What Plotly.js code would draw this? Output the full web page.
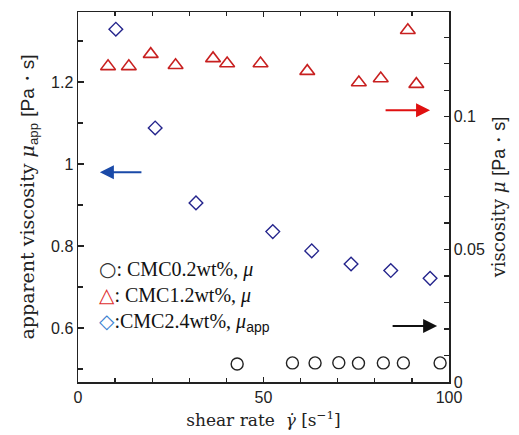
<!DOCTYPE html>
<html>
<head>
<meta charset="utf-8">
<script src="https://cdn.plot.ly/plotly-3.0.1.min.js"></script>
<style>html,body{margin:0;padding:0;background:#fff;}#chart{width:519px;height:435px;}</style>
</head>
<body>
<div id="chart"></div>
<script>
// CMC0.2wt% (viscosity mu, right axis)
var cmc02Shear = [42.9, 57.8, 63.9, 70.3, 75.6, 82.3, 87.7, 97.6];
var cmc02Mu    = [0.0068, 0.0072, 0.0072, 0.0073, 0.0071, 0.0072, 0.0072, 0.0072];
// CMC1.2wt% (viscosity mu, right axis)
var cmc12Shear = [8.1, 13.7, 19.6, 26.3, 36.4, 40.2, 49.2, 61.8, 75.7, 81.6, 88.9, 91.2];
var cmc12Mu    = [0.1190, 0.1190, 0.1236, 0.1194, 0.1220, 0.1201, 0.1201, 0.1172, 0.1129, 0.1144, 0.1326, 0.1123];
// CMC2.4wt% (apparent viscosity mu_app, left axis)
var cmc24Shear = [10.2, 20.8, 31.8, 52.5, 63.0, 73.6, 84.3, 94.9];
var cmc24MuApp = [1.329, 1.088, 0.905, 0.835, 0.788, 0.756, 0.740, 0.721];

var serif = 'DejaVu Serif';
var sans = 'Liberation Sans';

var traces = [
  {x: cmc02Shear, y: cmc02Mu, yaxis: 'y2', mode: 'markers', type: 'scatter', name: 'CMC0.2wt%',
   marker: {symbol: 'circle-open', size: 12, color: '#222', line: {width: 1.4, color: '#222'}}},
  {x: cmc12Shear, y: cmc12Mu, yaxis: 'y2', mode: 'markers', type: 'scatter', name: 'CMC1.2wt%',
   marker: {symbol: 'triangle-up-open', size: 13, color: '#c82020', line: {width: 1.6, color: '#c82020'}}},
  {x: cmc24Shear, y: cmc24MuApp, yaxis: 'y', mode: 'markers', type: 'scatter', name: 'CMC2.4wt%',
   marker: {symbol: 'diamond-open', size: 10.5, color: '#24248c', line: {width: 1.4, color: '#24248c'}}}
];

var tickFont = {family: sans, size: 16, color: '#222'};

var layout = {
  width: 519, height: 435,
  margin: {l: 78, r: 70, t: 12, b: 53},
  paper_bgcolor: '#fff', plot_bgcolor: '#fff',
  showlegend: false,
  xaxis: {
    range: [0, 100], dtick: 50, tick0: 0,
    ticks: 'inside', ticklen: 5, tickwidth: 1.3, tickcolor: '#222',
    minor: {dtick: 10, tick0: 0, ticks: 'inside', ticklen: 4, tickwidth: 1.3, tickcolor: '#222'},
    showline: true, linecolor: '#222', linewidth: 1.5, mirror: 'ticks',
    showgrid: false, zeroline: false, tickfont: tickFont,
    title: {text: 'shear rate  <i>γ̇</i> [s<sup>−1</sup>]', font: {family: serif, size: 17, color: '#222'}, standoff: 9}
  },
  yaxis: {
    range: [0.468, 1.371], dtick: 0.2, tick0: 0.6,
    ticks: 'inside', ticklen: 6, tickwidth: 1.3, tickcolor: '#222',
    minor: {dtick: 0.1, tick0: 0.5, ticks: 'inside', ticklen: 5, tickwidth: 1.3, tickcolor: '#222'},
    showline: true, linecolor: '#222', linewidth: 1.5,
    showgrid: false, zeroline: false, tickfont: tickFont,
    title: {text: 'apparent viscosity <i>μ</i><sub><span style="font-family:Liberation Sans">app</span></sub> <span style="font-family:Liberation Sans">[Pa・s]</span>',
            font: {family: serif, size: 19, color: '#222'}, standoff: 11}
  },
  yaxis2: {
    overlaying: 'y', side: 'right',
    range: [0, 0.1395], dtick: 0.05, tick0: 0,
    ticks: 'inside', ticklen: 5, tickwidth: 1.3, tickcolor: '#222',
    minor: {dtick: 0.01, tick0: 0, ticks: 'inside', ticklen: 5, tickwidth: 1.3, tickcolor: '#222'},
    showline: true, linecolor: '#222', linewidth: 1.5,
    showgrid: false, zeroline: false, tickfont: tickFont,
    title: {text: 'viscosity <i>μ</i> <span style="font-family:Liberation Sans">[Pa・s]</span>',
            font: {family: serif, size: 18, color: '#222'}, standoff: 8}
  },
  annotations: [
    {xref: 'paper', yref: 'paper', x: 0.05, y: 0.342, xanchor: 'left', yanchor: 'top', align: 'left', showarrow: false,
     font: {family: 'Liberation Serif', size: 20, color: '#111'},
     text: '<span style="font-family:DejaVu Sans;color:#333">○</span>: CMC0.2wt%, <i>μ</i><br>' +
           '<span style="font-family:DejaVu Sans;color:#e03030">△</span>: CMC1.2wt%, <i>μ</i><br>' +
           '<span style="font-family:DejaVu Sans;color:#3a7fd0">◇</span>:CMC2.4wt%, <i>μ</i><sub><span style="font-family:Liberation Sans">app</span></sub>'},
    {xref: 'x', yref: 'y', axref: 'x', ayref: 'y', x: 5.9, y: 0.98, ax: 17.5, ay: 0.98, text: '',
     showarrow: true, arrowhead: 2, arrowsize: 1.4, arrowwidth: 2, arrowcolor: '#1a4aa8'},
    {xref: 'x', yref: 'y2', axref: 'x', ayref: 'y2', x: 94.9, y: 0.1025, ax: 82.5, ay: 0.1025, text: '',
     showarrow: true, arrowhead: 2, arrowsize: 1.4, arrowwidth: 2, arrowcolor: '#e01010'},
    {xref: 'x', yref: 'y2', axref: 'x', ayref: 'y2', x: 96.8, y: 0.0211, ax: 84.4, ay: 0.0211, text: '',
     showarrow: true, arrowhead: 2, arrowsize: 1.4, arrowwidth: 2, arrowcolor: '#111'}
  ]
};

Plotly.newPlot('chart', traces, layout, {displayModeBar: false, staticPlot: true});
</script>
</body>
</html>
